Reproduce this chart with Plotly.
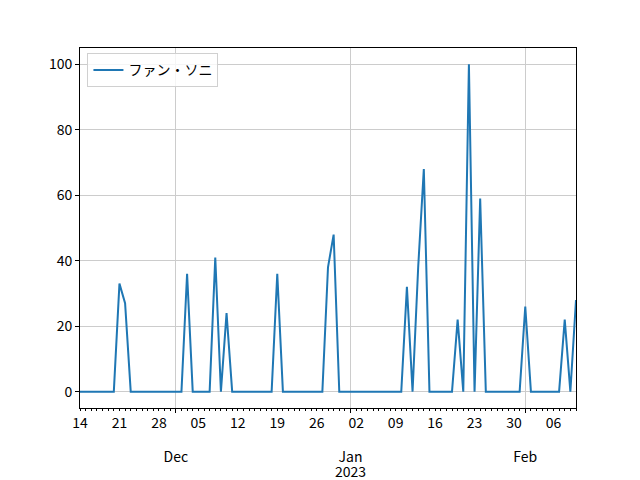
import pandas as pd
import plotly.graph_objects as go

series_name = "ファン・ソニ"
start_date = "2022-11-14"
values = [
    0, 0, 0, 0, 0, 0, 0, 33, 27, 0,      # Nov 14 - Nov 23
    0, 0, 0, 0, 0, 0, 0, 0, 0, 36,       # Nov 24 - Dec 3
    0, 0, 0, 0, 41, 0, 24, 0, 0, 0,      # Dec 4 - Dec 13
    0, 0, 0, 0, 0, 36, 0, 0, 0, 0,       # Dec 14 - Dec 23
    0, 0, 0, 0, 38, 48, 0, 0, 0, 0,      # Dec 24 - Jan 2
    0, 0, 0, 0, 0, 0, 0, 0, 32, 0,       # Jan 3 - Jan 12
    38, 68, 0, 0, 0, 0, 0, 22, 0, 100,   # Jan 13 - Jan 22
    0, 59, 0, 0, 0, 0, 0, 0, 0, 26,      # Jan 23 - Feb 1
    0, 0, 0, 0, 0, 0, 22, 0, 28,         # Feb 2 - Feb 10
]
dates = pd.date_range(start_date, periods=len(values), freq="D")

week_ticks = ["2022-11-14", "2022-11-21", "2022-11-28", "2022-12-05", "2022-12-12",
              "2022-12-19", "2022-12-26", "2023-01-02", "2023-01-09", "2023-01-16",
              "2023-01-23", "2023-01-30", "2023-02-06"]
week_labels = ["14", "21", "28", "05", "12", "19", "26", "02", "09", "16", "23", "30", "06"]
month_ticks = ["2022-12-01", "2023-01-01", "2023-02-01"]
month_labels = ["Dec", "Jan", "Feb"]
year_label = "2023"
year_tick = "2023-01-01"
y_ticks = [0, 20, 40, 60, 80, 100]

xr = [dates[0], dates[-1]]
font = "Noto Sans CJK JP, DejaVu Sans, sans-serif"

fig = go.Figure()
fig.add_trace(go.Scatter(x=dates, y=values, mode="lines", name=series_name,
                         line=dict(color="#1f77b4", width=2), showlegend=True))
# invisible trace on overlay axis for month ticks
fig.add_trace(go.Scatter(x=[dates[0]], y=[0], xaxis="x2", mode="lines",
                         line=dict(width=0), showlegend=False, hoverinfo="skip"))

fig.add_annotation(x=year_tick, xref="x", y=0, yref="paper", text=year_label,
                   showarrow=False, yanchor="middle", xanchor="center", yshift=-63,
                   font=dict(size=14, color="black"))

fig.update_layout(
    width=632, height=472,
    margin=dict(l=72, r=64, t=40, b=72, autoexpand=False),
    paper_bgcolor="white", plot_bgcolor="white",
    font=dict(family=font, size=14, color="black"),
    showlegend=True,
    legend=dict(x=0.015, y=0.985, xanchor="left", yanchor="top",
                bgcolor="rgba(255,255,255,0.8)", bordercolor="#d0d0d0", borderwidth=1,
                font=dict(size=14)),
    xaxis=dict(range=xr, tickmode="array", tickvals=week_ticks, ticktext=week_labels,
               ticks="outside", ticklen=2, tickcolor="black", showgrid=False,
               showline=True, linecolor="black", linewidth=1, mirror=True,
               zeroline=False, automargin=False,
               minor=dict(dtick=86400000, tick0=start_date, ticks="outside",
                          ticklen=2, tickcolor="black", showgrid=False)),
    xaxis2=dict(overlaying="x", anchor="y", side="bottom", range=xr,
                tickmode="array", tickvals=month_ticks, ticktext=month_labels,
                ticks="outside", ticklen=4, tickcolor="black",
                showgrid=True, gridcolor="#cccccc", gridwidth=1,
                ticklabelstandoff=32, showline=False, zeroline=False, automargin=False),
    yaxis=dict(range=[-5, 105], tickmode="array", tickvals=y_ticks,
               ticks="outside", ticklen=4, tickcolor="black",
               showgrid=True, gridcolor="#cccccc", gridwidth=1,
               showline=True, linecolor="black", linewidth=1, mirror=True,
               zeroline=False, automargin=False),
)

fig.write_html("out.html")
